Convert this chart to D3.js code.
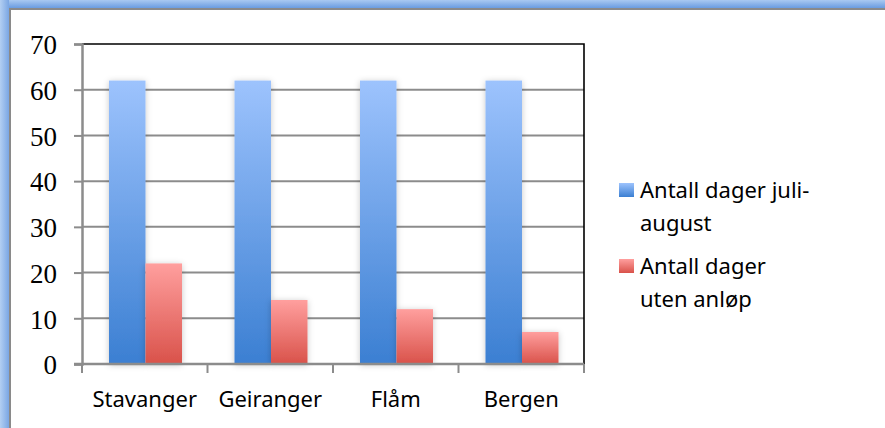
<!DOCTYPE html>
<html>
<head>
<meta charset="utf-8">
<script src="https://cdn.jsdelivr.net/npm/d3@7"></script>
<style>
  html, body { margin: 0; padding: 0; background: #fff; }
  svg { display: block; }
</style>
</head>
<body>
<svg id="chart" width="885" height="428"></svg>
<script>
// data
const ports = ["Stavanger", "Geiranger", "Flåm", "Bergen"];
const seriesNames = ["Antall dager juli-august", "Antall dager uten anløp"];
const daysJulyAugust = [62, 62, 62, 62];
const daysWithoutCalls = [22, 14, 12, 7];
const yTicks = [0, 10, 20, 30, 40, 50, 60, 70];
const legendLines = [["Antall dager juli-", "august"], ["Antall dager", "uten anløp"]];

const svg = d3.select("#chart");
const W = 885, H = 428;

// plot box
const plot = {left: 82, right: 584, top: 44, bottom: 364};

const defs = svg.append("defs");

// bar gradients
function vGrad(id, top, bottom) {
  const g = defs.append("linearGradient").attr("id", id)
    .attr("x1", 0).attr("y1", 0).attr("x2", 0).attr("y2", 1);
  g.append("stop").attr("offset", "0%").attr("stop-color", top);
  g.append("stop").attr("offset", "100%").attr("stop-color", bottom);
}
vGrad("gBlue", "#9dc3fd", "#3b7fd2");
vGrad("gRed", "#ff9f9e", "#d9524a");
vGrad("gTop", "#a9c9f1", "#6a9ce0");

const hg = defs.append("linearGradient").attr("id", "gLeft")
  .attr("x1", 0).attr("y1", 0).attr("x2", 1).attr("y2", 0);
hg.append("stop").attr("offset", "0%").attr("stop-color", "#b3cff2");
hg.append("stop").attr("offset", "100%").attr("stop-color", "#7aa6e3");

const shadow = defs.append("filter").attr("id", "shadow")
  .attr("x", "-50%").attr("y", "-20%").attr("width", "200%").attr("height", "140%");
shadow.append("feDropShadow").attr("dx", 0).attr("dy", 1)
  .attr("stdDeviation", 3).attr("flood-color", "#000").attr("flood-opacity", 0.22);

// frame around the chart
svg.append("rect").attr("x", 0).attr("y", 0).attr("width", W).attr("height", 8).attr("fill", "url(#gTop)");
svg.append("rect").attr("x", 0).attr("y", 0).attr("width", 9).attr("height", H).attr("fill", "url(#gLeft)");
svg.append("rect").attr("x", 9).attr("y", 8).attr("width", W - 9).attr("height", 2).attr("fill", "#8a8a8a");
svg.append("rect").attr("x", 9).attr("y", 8).attr("width", 2).attr("height", H - 8).attr("fill", "#8a8a8a");

// scales
const y = d3.scaleLinear().domain([0, 70]).range([plot.bottom, plot.top]);
const x0 = d3.scaleBand().domain(ports).range([plot.left, plot.right]).padding(0);
const x1 = d3.scaleBand().domain(seriesNames).range([27, 100]).padding(0);

// gridlines
svg.append("g")
  .selectAll("line")
  .data(yTicks.filter(d => d > 0 && d < 70))
  .join("line")
  .attr("x1", plot.left).attr("x2", plot.right)
  .attr("y1", d => y(d)).attr("y2", d => y(d))
  .attr("stroke", "#8c8c8c").attr("stroke-width", 2);

// top and right border of plot area
svg.append("path")
  .attr("d", `M${plot.left},${plot.top}H${plot.right}V${plot.bottom}`)
  .attr("fill", "none").attr("stroke", "#000").attr("stroke-width", 1.6);

// bars
const series = [daysJulyAugust, daysWithoutCalls];
const fills = ["url(#gBlue)", "url(#gRed)"];
const groups = svg.append("g").selectAll("g")
  .data(ports)
  .join("g")
  .attr("transform", d => `translate(${x0(d)},0)`);

groups.selectAll("rect")
  .data((p, i) => series.map((s, k) => ({key: seriesNames[k], value: s[i], k: k})))
  .join("rect")
  .attr("x", d => x1(d.key))
  .attr("width", x1.bandwidth())
  .attr("y", d => y(d.value))
  .attr("height", d => y(0) - y(d.value))
  .attr("fill", d => fills[d.k])
  .attr("filter", "url(#shadow)");

// y axis
const yAxis = svg.append("g")
  .attr("transform", `translate(${plot.left},0)`)
  .call(d3.axisLeft(y).tickValues(yTicks).tickSize(8).tickPadding(17));
yAxis.select(".domain").attr("stroke", "#8c8c8c").attr("stroke-width", 2.5);
yAxis.selectAll(".tick line").attr("stroke", "#8c8c8c").attr("stroke-width", 2);
yAxis.selectAll(".tick text")
  .attr("font-family", "'Liberation Serif', serif")
  .attr("font-size", 27)
  .attr("fill", "#000")
  .attr("dy", "0.36em");

// x axis: line plus ticks at band edges
const xg = svg.append("g");
xg.append("line")
  .attr("x1", plot.left - 8).attr("x2", plot.right)
  .attr("y1", y(0)).attr("y2", y(0))
  .attr("stroke", "#8c8c8c").attr("stroke-width", 2.5);
const edges = ports.map(p => x0(p)).concat([plot.right]);
xg.selectAll(".edge")
  .data(edges)
  .join("line")
  .attr("class", "edge")
  .attr("x1", d => d).attr("x2", d => d)
  .attr("y1", y(0)).attr("y2", y(0) + 9)
  .attr("stroke", "#8c8c8c").attr("stroke-width", 2);
xg.selectAll("text")
  .data(ports)
  .join("text")
  .attr("x", d => x0(d) + x0.bandwidth() / 2)
  .attr("y", 407)
  .attr("text-anchor", "middle")
  .attr("font-family", "'Noto Sans', sans-serif")
  .attr("font-size", 22)
  .attr("fill", "#000")
  .text(d => d);

// legend
const legend = svg.append("g");
const legendTop = [183, 259];
legendLines.forEach((lines, i) => {
  legend.append("rect")
    .attr("x", 619).attr("y", legendTop[i])
    .attr("width", 15).attr("height", 14)
    .attr("fill", fills[i]);
  lines.forEach((t, j) => {
    legend.append("text")
      .attr("x", 640)
      .attr("y", legendTop[i] + 15 + j * 33)
      .attr("font-family", "'Noto Sans', sans-serif")
      .attr("font-size", 22)
      .attr("fill", "#000")
      .text(t);
  });
});
</script>
</body>
</html>
